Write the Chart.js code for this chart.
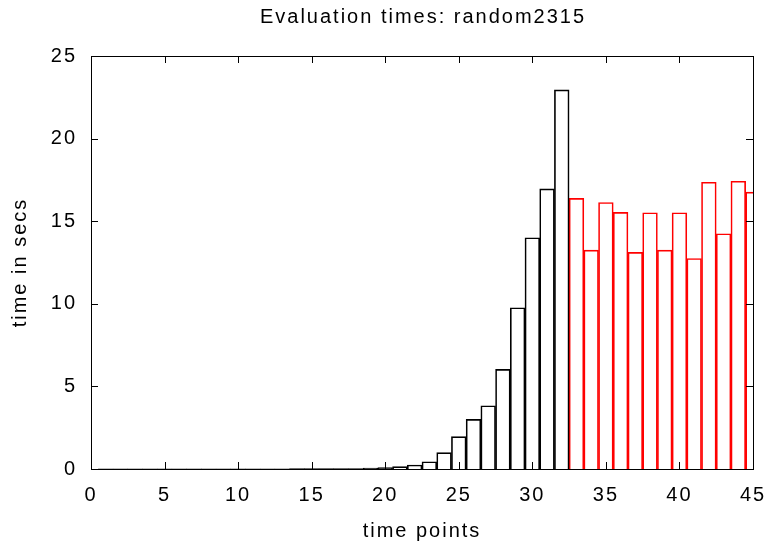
<!DOCTYPE html>
<html>
<head>
<meta charset="utf-8">
<script src="https://cdn.jsdelivr.net/npm/chart.js@4.4.0/dist/chart.umd.min.js"></script>
<style>
  html, body { margin: 0; padding: 0; background: #fff; }
  #wrap { width: 769px; height: 543px; }
</style>
</head>
<body>
<div id="wrap"><canvas id="grafico"></canvas></div>
<script>
// puntos de tiempo 0..45
const puntos = [];
for (let i = 0; i <= 45; i++) puntos.push(i);

// tiempos (negro) para los puntos 0..32
const tiemposNegro = [0, 0.003, 0.003, 0.004, 0.005, 0.005, 0.006, 0.007, 0.008, 0.009,
  0.01, 0.012, 0.014, 0.016, 0.018, 0.02, 0.025, 0.03, 0.03, 0.06,
  0.08, 0.14, 0.24, 0.44, 0.99, 1.96, 3.0, 3.83, 6.03, 9.76,
  14.0, 16.96, 22.95];

// tiempos (rojo) para los puntos 33..45
const tiemposRojo = [16.38, 13.25, 16.13, 15.53, 13.11, 15.51, 13.25, 15.51, 12.74, 17.36,
  14.24, 17.42, 16.76];

const ticksX = [0, 5, 10, 15, 20, 25, 30, 35, 40, 45];
const ticksY = [0, 5, 10, 15, 20, 25];
const titulo = 'Evaluation times: random2315';

// armar las series completas
const serieNegra = puntos.map(p => p < tiemposNegro.length ? tiemposNegro[p] : null);
const serieRoja = puntos.map(p => p >= 33 ? tiemposRojo[p - 33] : null);

const fuente = { family: 'Liberation Sans, Arial, sans-serif', size: 20 };

// marco, marcas hacia dentro y título centrado sobre el área del gráfico
const marcoPlugin = {
  id: 'marco',
  beforeDraw(chart) {
    chart.ctx.letterSpacing = '2px';
  },
  afterDatasetsDraw(chart) {
    const { ctx, chartArea: a, scales } = chart;
    ctx.save();
    ctx.strokeStyle = '#000';
    ctx.lineWidth = 1;
    ctx.beginPath();
    ticksX.forEach(v => {
      const x = Math.round(scales.x.getPixelForValue(v)) + 0.5;
      ctx.moveTo(x, a.bottom); ctx.lineTo(x, a.bottom - 7);
      ctx.moveTo(x, a.top); ctx.lineTo(x, a.top + 7);
    });
    ticksY.forEach(v => {
      const y = Math.round(scales.y.getPixelForValue(v)) + 0.5;
      ctx.moveTo(a.left, y); ctx.lineTo(a.left + 7, y);
      ctx.moveTo(a.right, y); ctx.lineTo(a.right - 7, y);
    });
    ctx.stroke();
    ctx.strokeRect(Math.round(a.left) + 0.5, Math.round(a.top) + 0.5,
      Math.round(a.right - a.left), Math.round(a.bottom - a.top));

    // título
    ctx.fillStyle = '#000';
    ctx.font = '20px "Liberation Sans", Arial, sans-serif';
    ctx.textAlign = 'center';
    ctx.textBaseline = 'middle';
    ctx.fillText(titulo, (a.left + a.right) / 2 + 1, 17);
    ctx.restore();
  }
};

const opcionesBarra = {
  backgroundColor: 'rgba(0,0,0,0)',
  borderWidth: 1,
  barPercentage: 1,
  categoryPercentage: 1,
  grouped: false,
  clip: 0
};

const ctx = document.getElementById('grafico').getContext('2d');
new Chart(ctx, {
  type: 'bar',
  data: {
    labels: puntos,
    datasets: [
      { ...opcionesBarra, data: serieNegra, borderColor: '#000' },
      { ...opcionesBarra, data: serieRoja, borderColor: '#ff0000' }
    ]
  },
  options: {
    responsive: true,
    maintainAspectRatio: false,
    animation: false,
    layout: { padding: { left: 0, right: 16, top: 56, bottom: 0 } },
    plugins: {
      legend: { display: false },
      tooltip: { enabled: false },
      title: { display: false }
    },
    scales: {
      x: {
        offset: false,
        grid: { display: false, drawTicks: false },
        border: { display: false },
        ticks: {
          color: '#000',
          font: fuente,
          padding: 14,
          autoSkip: false,
          maxRotation: 0,
          callback: (v, i) => (i % 5 === 0 ? String(puntos[i]) : '')
        },
        title: {
          display: true,
          text: 'time points',
          color: '#000',
          font: fuente,
          padding: { top: 0, bottom: 0 }
        },
        afterFit: s => { s.height = 74; s.paddingLeft = 0; s.paddingRight = 0; }
      },
      y: {
        min: 0,
        max: 25,
        grid: { display: false, drawTicks: false },
        border: { display: false },
        ticks: { stepSize: 5, color: '#000', font: fuente, padding: 14 },
        title: {
          display: true,
          text: 'time in secs',
          color: '#000',
          font: fuente,
          padding: { top: 8, bottom: 0 }
        },
        afterFit: s => { s.width = 91; s.paddingTop = 0; s.paddingBottom = 0; }
      }
    }
  },
  plugins: [marcoPlugin]
});
</script>
</body>
</html>
